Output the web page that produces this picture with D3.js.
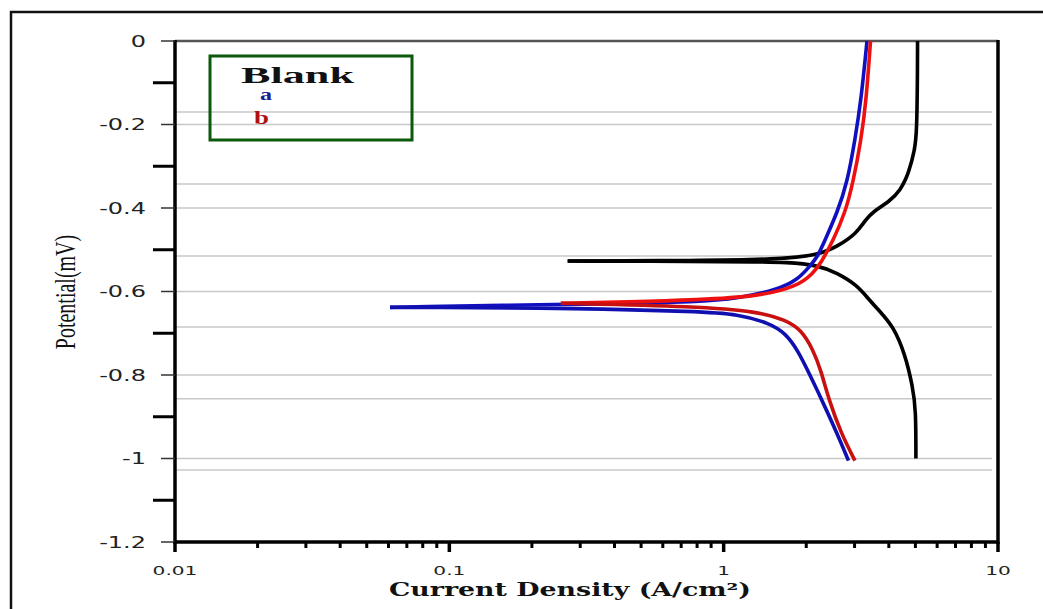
<!DOCTYPE html>
<html>
<head>
<meta charset="utf-8">
<script src="https://cdn.jsdelivr.net/npm/d3@7"></script>
<style>
  html, body { margin: 0; padding: 0; background: #fff; }
  svg { display: block; }
</style>
</head>
<body>
<svg id="chart" width="1043" height="609"></svg>
<script>
// ---------------- DATA ----------------
const xTickValues = [0.01, 0.1, 1, 10];
const xTickLabels = ["0.01", "0.1", "1", "10"];
const yTickValues = [0, -0.2, -0.4, -0.6, -0.8, -1, -1.2];
const yTickLabels = ["0", "-0.2", "-0.4", "-0.6", "-0.8", "-1", "-1.2"];
const yMinorTicks = [-0.1, -0.3, -0.5, -0.7, -0.9, -1.1];
const extraGrid = [-0.17, -0.3425, -0.515, -0.685, -0.857, -1.0275];

const legendLabels = ["Blank", "a", "b"];

// Blank (black)
const blankAnodicI = [5.09, 5.09, 5.06, 4.97, 4.73, 4.42, 4.01, 3.50, 3.28, 3.06, 2.59, 2.20, 1.57, 0.80, 0.27];
const blankAnodicE = [0, -0.06, -0.22, -0.261, -0.316, -0.357, -0.385, -0.409, -0.429, -0.460, -0.493, -0.513, -0.523, -0.526, -0.527];
const blankCathodicI = [0.27, 0.80, 1.35, 1.68, 2.20, 2.59, 3.06, 3.39, 3.75, 4.15, 4.57, 4.89, 5.02, 5.02];
const blankCathodicE = [-0.527, -0.528, -0.529, -0.530, -0.5365, -0.5557, -0.5844, -0.620, -0.651, -0.684, -0.747, -0.828, -0.884, -1.0];

// a (blue)
const aAnodicI = [3.33, 3.17, 3.01, 2.82, 2.59, 2.34, 2.20, 2.05, 1.86, 1.57, 1.13, 0.82, 0.354, 0.153, 0.078, 0.0608];
const aAnodicE = [0, -0.141, -0.237, -0.340, -0.412, -0.477, -0.517, -0.541, -0.572, -0.596, -0.616, -0.625, -0.630, -0.633, -0.636, -0.638];
const aCathodicI = [0.0608, 0.078, 0.297, 0.807, 1.13, 1.47, 1.68, 1.86, 2.05, 2.34, 2.59, 2.85];
const aCathodicE = [-0.638, -0.638, -0.640, -0.648, -0.654, -0.676, -0.700, -0.740, -0.796, -0.876, -0.940, -1.005];

// b (red)
const bAnodicI = [3.43, 3.31, 3.17, 2.96, 2.77, 2.51, 2.26, 2.12, 1.86, 1.33, 0.807, 0.45, 0.255];
const bAnodicE = [0, -0.141, -0.237, -0.340, -0.412, -0.477, -0.532, -0.556, -0.588, -0.612, -0.620, -0.625, -0.628];
const bCathodicI = [0.255, 0.807, 1.33, 1.68, 1.92, 2.12, 2.26, 2.42, 2.68, 3.01];
const bCathodicE = [-0.628, -0.636, -0.648, -0.668, -0.692, -0.740, -0.788, -0.860, -0.940, -1.005];

// ---------------- LAYOUT ----------------
const svg = d3.select("#chart");
const L = 175, R = 998, T = 41, B = 542;
const x = d3.scaleLog().domain([0.01, 10]).range([L, R]);
const y = d3.scaleLinear().domain([-1.2, 0]).range([B, T]);

// outer frame
svg.append("rect").attr("x", 11).attr("y", 12).attr("width", 1060).attr("height", 640)
  .attr("fill", "none").attr("stroke", "#111").attr("stroke-width", 2.5);

// gridlines
const grid = svg.append("g");
grid.selectAll("line.g1").data(yTickValues.filter(v => v < 0 && v > -1.2)).join("line")
  .attr("x1", L).attr("x2", R - 6).attr("y1", d => y(d)).attr("y2", d => y(d))
  .attr("stroke", "#c8c8c8").attr("stroke-width", 1.5);
grid.selectAll("line.g2").data(extraGrid).join("line")
  .attr("x1", L).attr("x2", R - 6).attr("y1", d => y(d)).attr("y2", d => y(d))
  .attr("stroke", "#c8c8c8").attr("stroke-width", 1.5);

// top border
svg.append("line").attr("x1", L).attr("x2", R).attr("y1", T).attr("y2", T)
  .attr("stroke", "#555").attr("stroke-width", 2.5);

// curves
const line = d3.line().x(d => x(d[0])).y(d => y(d[1])).curve(d3.curveBasis);
const zip = (a, b) => a.map((v, i) => [v, b[i]]);
const branches = [
  { I: blankAnodicI, E: blankAnodicE, color: "#000000" },
  { I: blankCathodicI, E: blankCathodicE, color: "#000000" },
  { I: aAnodicI, E: aAnodicE, color: "#1010c0" },
  { I: aCathodicI, E: aCathodicE, color: "#1010b0" },
  { I: bAnodicI, E: bAnodicE, color: "#ee1010" },
  { I: bCathodicI, E: bCathodicE, color: "#c81010" }
];
svg.append("g").selectAll("path").data(branches).join("path")
  .attr("d", d => line(zip(d.I, d.E)))
  .attr("fill", "none").attr("stroke", d => d.color)
  .attr("stroke-width", 3.6).attr("stroke-linejoin", "round").attr("stroke-linecap", "butt");

// axes lines
svg.append("line").attr("x1", L).attr("x2", L).attr("y1", T - 1).attr("y2", B + 2)
  .attr("stroke", "#000").attr("stroke-width", 3.5);
svg.append("line").attr("x1", L - 1).attr("x2", R + 1).attr("y1", B).attr("y2", B)
  .attr("stroke", "#000").attr("stroke-width", 3.5);
svg.append("line").attr("x1", R).attr("x2", R).attr("y1", T - 1).attr("y2", B + 2)
  .attr("stroke", "#000").attr("stroke-width", 3.5);

// y ticks
svg.append("g").selectAll("line").data(yTickValues).join("line")
  .attr("x1", L - 14).attr("x2", L).attr("y1", d => y(d)).attr("y2", d => y(d))
  .attr("stroke", "#333").attr("stroke-width", 1.5);
svg.append("g").selectAll("line").data(yMinorTicks).join("line")
  .attr("x1", L - 22).attr("x2", L).attr("y1", d => y(d)).attr("y2", d => y(d))
  .attr("stroke", "#000").attr("stroke-width", 3);

// x ticks (log minor)
const minorX = [];
[0.01, 0.1, 1].forEach(dec => { for (let k = 2; k <= 9; k++) minorX.push(dec * k); });
svg.append("g").selectAll("line").data(minorX).join("line")
  .attr("x1", d => x(d)).attr("x2", d => x(d)).attr("y1", B).attr("y2", B + 6)
  .attr("stroke", "#000").attr("stroke-width", 3);
svg.append("g").selectAll("line").data(xTickValues).join("line")
  .attr("x1", d => x(d)).attr("x2", d => x(d)).attr("y1", B).attr("y2", B + 10)
  .attr("stroke", "#000").attr("stroke-width", 3.5);

// y tick labels
svg.append("g").selectAll("text").data(yTickValues).join("text")
  .attr("transform", d => `translate(146,${y(d) + 5.5}) scale(1.6,1)`)
  .attr("text-anchor", "end")
  .attr("font-family", "DejaVu Sans, Verdana, sans-serif").attr("font-size", 15)
  .attr("fill", "#222")
  .text((d, i) => yTickLabels[i]);

// x tick labels
svg.append("g").selectAll("text").data(xTickValues).join("text")
  .attr("transform", d => `translate(${x(d)},575) scale(1.75,1)`)
  .attr("text-anchor", "middle")
  .attr("font-family", "DejaVu Sans, Verdana, sans-serif").attr("font-size", 11.5)
  .attr("fill", "#222")
  .text((d, i) => xTickLabels[i]);

// axis titles
svg.append("text")
  .attr("x", 570).attr("y", 596)
  .attr("text-anchor", "middle")
  .attr("font-family", "DejaVu Serif, serif").attr("font-weight", "bold").attr("font-size", 18)
  .attr("textLength", 362).attr("lengthAdjust", "spacingAndGlyphs")
  .attr("fill", "#111")
  .text("Current Density (A/cm²)");

svg.append("text")
  .attr("transform", "translate(75,292) rotate(-90) scale(1,1.45)")
  .attr("text-anchor", "middle")
  .attr("font-family", "Liberation Serif, Times New Roman, serif").attr("font-size", 20)
  .attr("fill", "#111")
  .text("Potential(mV)");

// legend
svg.append("rect").attr("x", 210).attr("y", 56).attr("width", 202).attr("height", 84)
  .attr("fill", "none").attr("stroke", "#0b5a0b").attr("stroke-width", 3);
svg.append("text").attr("x", 241).attr("y", 83)
  .attr("font-family", "Liberation Serif, Times New Roman, serif").attr("font-weight", "bold")
  .attr("font-size", 24).attr("textLength", 113).attr("lengthAdjust", "spacingAndGlyphs")
  .attr("fill", "#111").text(legendLabels[0]);
svg.append("text").attr("transform", "translate(260,100) scale(1.5,1)")
  .attr("font-family", "Liberation Serif, Times New Roman, serif").attr("font-weight", "bold")
  .attr("font-size", 16).attr("fill", "#1a1a90").text(legendLabels[1]);
svg.append("text").attr("transform", "translate(254,124) scale(1.5,1)")
  .attr("font-family", "Liberation Serif, Times New Roman, serif").attr("font-weight", "bold")
  .attr("font-size", 18).attr("fill", "#b01010").text(legendLabels[2]);
</script>
</body>
</html>
